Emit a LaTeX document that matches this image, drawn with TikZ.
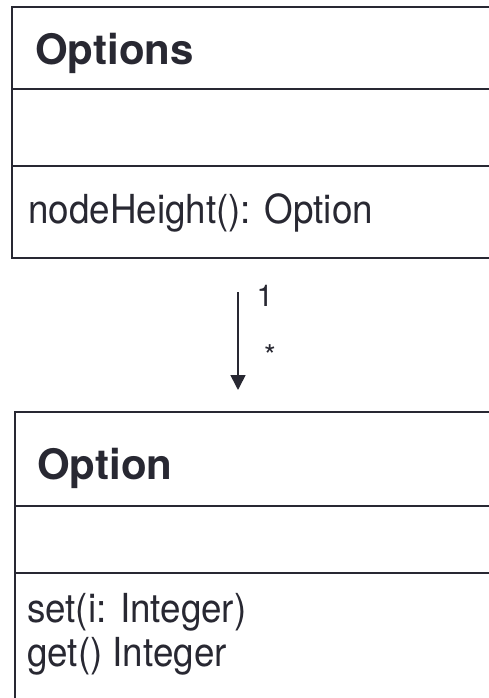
\documentclass[tikz,border=0pt]{standalone}
\usepackage{fontspec}
\setmainfont{TeX Gyre Heros}
\newfontfamily\memberfont[FakeStretch=0.92]{TeX Gyre Heros}
\usetikzlibrary{arrows.meta}
\definecolor{ink}{HTML}{282832}
\tikzset{
  classbox/.style={draw=ink, line width=2.2pt, rectangle, inner sep=0pt, anchor=north west},
  divider/.style={draw=ink, line width=2.2pt},
  title/.style={anchor=base west, inner sep=0pt, text=ink, font=\fontsize{42}{50}\selectfont\bfseries},
  member/.style={anchor=base west, inner sep=0pt, text=ink, align=left, font=\memberfont\fontsize{40}{46}\selectfont},
  mult/.style={anchor=center, inner sep=0pt, text=ink, font=\fontsize{30}{34}\selectfont},
  assoc/.style={draw=ink, line width=1.6pt, -{Triangle[width=15pt,length=15pt]}}
}
\begin{document}
\begin{tikzpicture}[x=1pt,y=-1pt]
\useasboundingbox[fill=white] (0,0) rectangle (488,698);

% class Options
\node[classbox, minimum width=500pt, minimum height=251pt] (options) at (11,6) {};
\draw[divider] (11,89) -- (511,89);
\draw[divider] (11,166) -- (511,166);
\node[title] (optionsname) at (35,65) {Options};
\node[member] (optionsop) at (28,223) {nodeHeight(): Option};

% class Option
\node[classbox, minimum width=500pt, minimum height=320pt] (option) at (14,411) {};
\draw[divider] (14,506) -- (514,506);
\draw[divider] (14,573) -- (514,573);
\node[title] (optionname) at (37,479) {Option};
\node[member] (optionset) at (27,622) {set(i: Integer)};
\node[member] (optionget) at (27,666) {get() Integer};

% association
\coordinate (assocstart) at (238,292);
\coordinate (assocend) at (238,390);
\draw[assoc] (assocstart) -- (assocend);
\node[mult] (multone) at (265,296) {1};
\node[mult] (multmany) at (270,356) {*};
\end{tikzpicture}
\end{document}
